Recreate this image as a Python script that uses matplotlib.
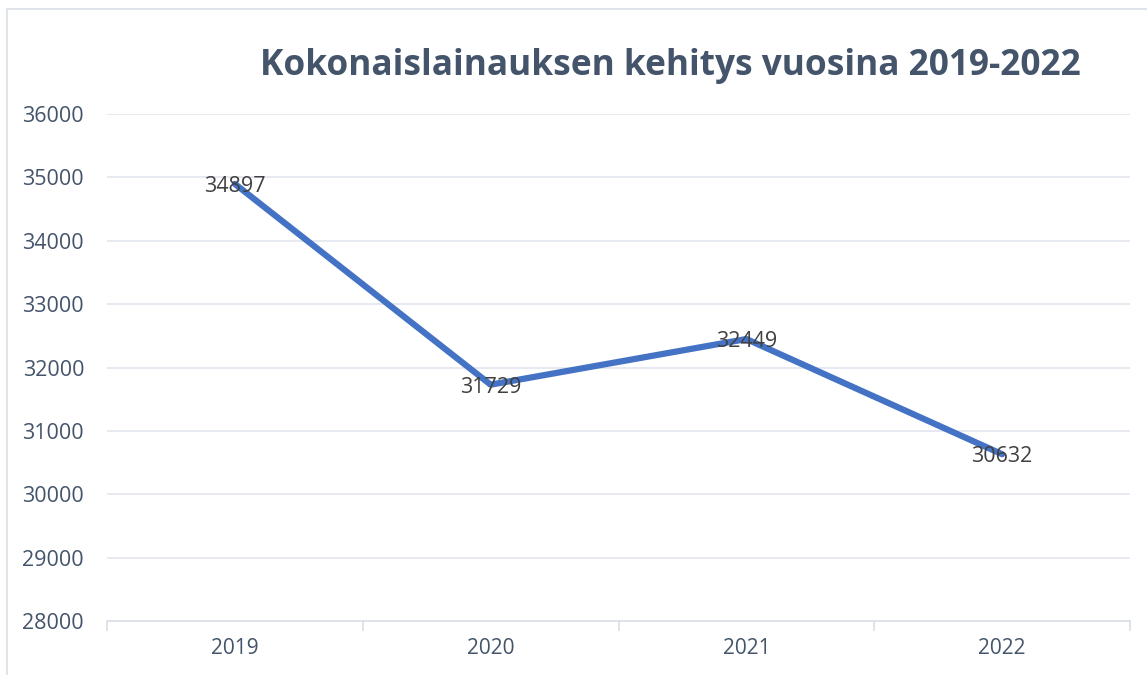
import matplotlib
matplotlib.use("Agg")
import matplotlib.pyplot as plt
from matplotlib.patches import Rectangle

years = ["2019", "2020", "2021", "2022"]
values = [34897, 31729, 32449, 30632]
yticks = [28000, 29000, 30000, 31000, 32000, 33000, 34000, 35000, 36000]
title = "Kokonaislainauksen kehitys vuosina 2019-2022"

plt.rcParams['font.family'] = ['Open Sans', 'DejaVu Sans']
W, H = 1147, 675
fig = plt.figure(figsize=(W/100, H/100), dpi=100)
fig.patches.append(Rectangle((7/W, -0.1), 1.2, (1 - 9/H) + 0.1, transform=fig.transFigure,
                             fill=False, edgecolor='#D9DEE6', linewidth=1.2))
ax = fig.add_axes([107/W, 1 - 621/H, (1130 - 107)/W, (621 - 114)/H])

xs = list(range(len(years)))
ax.plot(xs, values, color='#4472C4', linewidth=4.5, solid_capstyle='round', zorder=3)
for x, v in zip(xs, values):
    ax.text(x, v, str(v), ha='center', va='center_baseline', fontsize=15.5, color='#404040', zorder=4)

ax.set_ylim(28000, 36000)
ax.set_xlim(-0.5, len(years) - 0.5)
ax.set_yticks(yticks)
ax.set_yticklabels([str(t) for t in yticks], fontsize=15.5, color='#44546A')
ax.yaxis.grid(True, color='#E1E5EC', linewidth=1.2)
ax.set_axisbelow(True)
ax.tick_params(axis='y', length=0, pad=16.5)

ax.set_xticks([x - 0.5 for x in range(len(years) + 1)])
ax.set_xticklabels([])
ax.set_xticks(xs, minor=True)
ax.set_xticklabels(years, minor=True, fontsize=15, color='#44546A')
ax.tick_params(axis='x', which='major', length=7, color='#D9DEE6', width=1.2)
ax.tick_params(axis='x', which='minor', length=0, pad=12)

for s in ['top', 'right', 'left']:
    ax.spines[s].set_visible(False)
ax.spines['bottom'].set_color('#D9DEE6')
ax.spines['bottom'].set_linewidth(1.2)

fig.text(670/W, 1 - 66/H, title, ha='center', va='center', fontsize=25.4,
         fontweight='bold', color='#44546A')

fig.savefig('out.png', dpi=100)
